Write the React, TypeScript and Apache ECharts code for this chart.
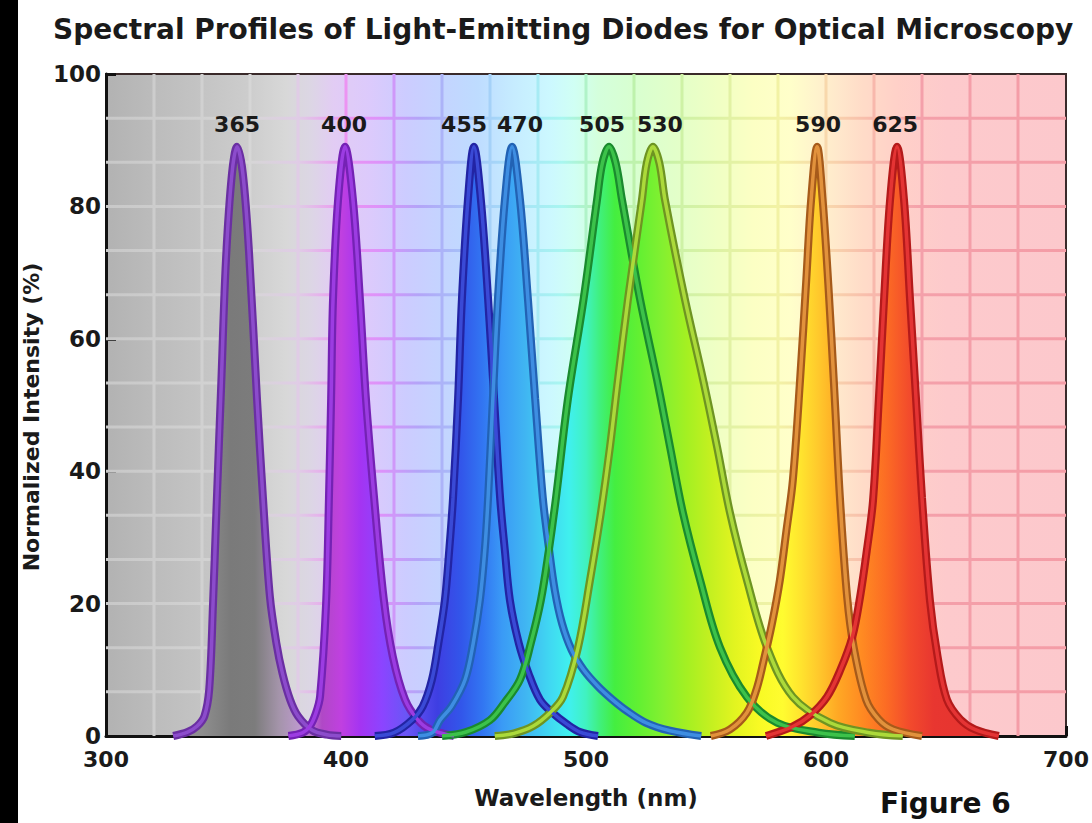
import React, { useEffect, useRef } from 'react';
import * as echarts from 'echarts';

const titleText = 'Spectral Profiles of Light-Emitting Diodes for Optical Microscopy';
const xAxisName = 'Wavelength (nm)';
const yAxisName = 'Normalized Intensity (%)';
const figureLabel = 'Figure 6';

// peak labels and where they sit (nm, %)
const ledNames = ['365', '400', '455', '470', '505', '530', '590', '625'];
const labelPositions = [354.6, 399.2, 449.2, 472.5, 506.7, 530.8, 596.7, 628.8];
const labelHeight = 92.3;

// background grid positions
const xGrid = [320, 340, 360, 380, 400, 420, 440, 460, 480, 500, 520, 540, 560, 580, 600, 620, 640, 660, 680];
const yGrid = [6.67, 13.33, 20, 26.67, 33.33, 40, 46.67, 53.33, 60, 66.67, 73.33, 80, 86.67, 93.33];

// spectra: [wavelength nm, normalized intensity %]
const led365 = [[328, 0], [334, 0.6], [338, 1.5], [341, 3], [343, 7], [344.6, 20], [346, 34], [348, 53], [350, 72], [352.5, 85], [354.6, 89], [357, 85], [359.6, 73], [362.9, 51], [365.4, 36], [368.3, 21], [371, 14], [373.5, 9.5], [376.7, 5.5], [380, 3], [385.8, 0.9], [392, 0.2], [398, 0]];
const led400 = [[376, 0], [382, 0.5], [385, 1.5], [387.5, 3.5], [389.2, 6], [391.7, 20], [392.9, 36], [393.8, 51], [394.6, 66], [396.7, 81], [399.6, 89], [402.9, 81], [405.8, 66], [408.3, 51], [411.7, 36], [415.8, 20.5], [419.5, 12], [424.6, 5.5], [430, 2.4], [435, 1], [445, 0]];
const led455 = [[412, 0], [420, 0.5], [427.5, 2.4], [432, 4.5], [435.8, 8.5], [438.5, 14], [441.2, 20.5], [443, 28], [444.6, 36], [446.7, 51], [448.3, 66], [450.8, 81], [453.3, 89], [456.2, 81], [459.2, 66], [461.7, 51], [464.2, 36], [466.2, 28], [468.3, 20.5], [472, 14], [476, 9.5], [480.8, 5.5], [486, 3.5], [492, 1.8], [497.5, 0.6], [505, 0]];
const led470 = [[430, 0], [436, 0.5], [439.2, 2.4], [444, 4.5], [449.6, 8.5], [453, 14], [455.8, 20.5], [457.8, 28], [459.2, 36], [461.2, 51], [463.3, 66], [466.2, 81], [469.2, 89], [472.5, 81], [475.8, 66], [478.8, 51], [482, 36], [484.5, 28.5], [487, 22], [490, 17], [494, 13], [499, 10], [505, 7.5], [511, 5.5], [517, 3.8], [525, 2], [535, 0.8], [548, 0]];
const led505 = [[440, 0], [450, 0.6], [460, 2.4], [466, 5], [472.5, 8.5], [477, 14], [481.2, 20.5], [484.5, 28], [487.5, 36], [492.5, 51], [499, 66], [504.6, 81], [506.8, 86.5], [509.6, 89], [512.4, 86.5], [515, 81], [522.5, 66], [529.6, 53.8], [535, 43.7], [540.4, 33.7], [547.5, 23.6], [555.8, 13.4], [567, 5.9], [579.6, 2], [597, 0.5], [612, 0]];
const led530 = [[462, 0], [470, 0.4], [478, 1.5], [485, 3.5], [490.4, 5.9], [496.7, 13.4], [501.7, 23.6], [506.2, 33.7], [510, 43.7], [513.3, 53.8], [517.5, 66], [523.3, 81], [525.3, 86.5], [527.9, 89], [530.6, 86.5], [532.9, 81], [541.2, 66], [548.8, 53.8], [554.6, 43.7], [560, 33.7], [567, 23.6], [575.4, 13.4], [586.2, 5.9], [601.7, 2], [618, 0.5], [632, 0]];
const led590 = [[552, 0], [560, 1], [567, 3.5], [571, 7], [573.8, 11], [577.5, 17], [580.8, 23.6], [583.5, 31], [586.2, 38.7], [589.2, 53.8], [591.8, 69], [593.8, 81], [596.3, 89], [598.6, 81], [601, 68], [603.5, 52], [605.8, 36], [608.8, 21], [611.5, 13.5], [616.7, 5.5], [622, 2.5], [628, 1], [640, 0]];
const led625 = [[575, 0], [586, 1.4], [593, 3], [600.4, 5.9], [606, 10], [611, 15], [614.2, 21], [617, 28], [619.6, 35.6], [622, 50.8], [624.2, 66], [626.7, 81], [629.6, 89], [632.5, 81], [635, 66], [637.5, 51], [640, 36], [643.3, 20.5], [646.5, 12], [650.4, 5.5], [656, 2.5], [662, 1], [672, 0]];

const ledData = [led365, led400, led455, led470, led505, led530, led590, led625];

// styles
const outerColors = ['#6a2fa2', '#7422b4', '#2224a4', '#2262b4', '#1a8a2e', '#6e9422', '#a65a1a', '#b41a1a'];
const innerColors = ['#8c4ccc', '#9c3ce2', '#3a4ad6', '#3e8ee2', '#3cc24a', '#acda3a', '#e2923c', '#e43434'];

const fillKeys: [number, string][] = [
  [300, '#9a9a9a'], [340, '#8e8e8e'], [352, '#7a7a7a'], [362, '#7c7c7c'], [372, '#a494aa'], [382, '#c09ad2'],
  [390, '#b048c6'], [398, '#c040e0'], [406, '#a434f2'], [415, '#8c44ff'], [425, '#6a56f6'], [438, '#3e3ee2'],
  [448, '#3256ea'], [457, '#3276f2'], [465, '#3a9af6'], [475, '#40b6f2'], [485, '#40d8f2'], [493, '#40f0ee'],
  [500, '#40f2c0'], [506, '#40f07a'], [512, '#44ee40'], [522, '#62f032'], [532, '#84f030'], [542, '#a4f022'],
  [552, '#c4f020'], [562, '#e2f420'], [572, '#f8fa24'], [582, '#fffc30'], [590, '#ffe22e'], [597, '#ffc82c'],
  [605, '#ffa824'], [615, '#ff8a22'], [625, '#fc6c24'], [635, '#f24a2c'], [645, '#e83630'], [700, '#e03030'],
];

const bgKeys: [number, string][] = [
  [300, '#b2b2b2'], [320, '#bcbcbc'], [340, '#c4c4c4'], [360, '#cdcdcd'], [375, '#d8d8d8'], [385, '#dcd6e4'],
  [395, '#e2ccf4'], [410, '#dccafc'], [425, '#ccccff'], [440, '#c4d4ff'], [455, '#bedcff'], [470, '#c6ecff'],
  [485, '#ccf8ff'], [495, '#d0fff4'], [505, '#d4ffdc'], [520, '#d8ffd0'], [540, '#e4ffc8'], [555, '#f0ffc4'],
  [570, '#fcffc4'], [585, '#ffffca'], [595, '#fff4cc'], [605, '#ffe8cc'], [615, '#ffdcc8'], [630, '#ffd0c8'],
  [650, '#fdcacc'], [700, '#fcc8cc'],
];

const gridKeys: [number, string][] = [
  [300, '#c8c8c8'], [360, '#d6d6d6'], [380, '#e0cce6'], [400, '#ec94f2'], [415, '#dc92fa'], [430, '#b4a4f8'],
  [450, '#a4c2f8'], [470, '#a6e0f8'], [490, '#a8f6f0'], [505, '#b4f2b4'], [530, '#c4f2a6'], [560, '#e2f2a4'],
  [580, '#f2f2a4'], [600, '#f8d8ac'], [620, '#f8b8ac'], [640, '#f4a0aa'], [700, '#f49ca6'],
];

const FONT = '"DejaVu Sans", "Liberation Sans", sans-serif';

function hexToRgb(h: string) {
  const n = parseInt(h.slice(1), 16);
  return [(n >> 16) & 255, (n >> 8) & 255, n & 255];
}
function colorAt(keys: [number, string][], nm: number) {
  if (nm <= keys[0][0]) return keys[0][1];
  for (let i = 1; i < keys.length; i++) {
    if (nm <= keys[i][0]) {
      const [a, ca] = keys[i - 1];
      const [b, cb] = keys[i];
      const t = (nm - a) / (b - a);
      const A = hexToRgb(ca), B = hexToRgb(cb);
      const c = A.map((v, k) => Math.round(v + (B[k] - v) * t));
      return `rgb(${c[0]},${c[1]},${c[2]})`;
    }
  }
  return keys[keys.length - 1][1];
}
function spectrumGradient(keys: [number, string][], lo: number, hi: number) {
  const stops = [{ offset: 0, color: colorAt(keys, lo) }];
  keys.forEach(([nm, c]) => {
    if (nm > lo && nm < hi) stops.push({ offset: (nm - lo) / (hi - lo), color: c });
  });
  stops.push({ offset: 1, color: colorAt(keys, hi) });
  return new echarts.graphic.LinearGradient(0, 0, 1, 0, stops);
}

const X_MIN = 300;
const X_MAX = 700;
const SMOOTH = 0.35;

export default function App() {
  const ref = useRef<HTMLDivElement>(null);
  useEffect(() => {
    if (!ref.current) return;
    const chart = echarts.init(ref.current, null, { renderer: 'svg' });
    const series: any[] = [];

    series.push({
      type: 'custom',
      name: 'vgrid',
      silent: true,
      z: 1,
      data: xGrid.map((x) => [x, 0]),
      renderItem: (_p: any, api: any) => {
        const x = api.value(0);
        const top = api.coord([x, 100]);
        const bot = api.coord([x, 0]);
        return {
          type: 'rect',
          shape: { x: top[0] - 1.5, y: top[1], width: 3, height: bot[1] - top[1] },
          style: { fill: colorAt(gridKeys, x) },
        };
      },
    });
    series.push({
      type: 'custom',
      name: 'hgrid',
      silent: true,
      z: 1,
      data: yGrid.map((v) => [X_MIN, v]),
      renderItem: (_p: any, api: any) => {
        const v = api.value(1);
        const l = api.coord([X_MIN, v]);
        const r = api.coord([X_MAX, v]);
        return {
          type: 'rect',
          shape: { x: l[0], y: l[1] - 1.5, width: r[0] - l[0], height: 3 },
          style: { fill: spectrumGradient(gridKeys, X_MIN, X_MAX) },
        };
      },
    });

    ledData.forEach((d, i) => {
      const lo = d[0][0];
      const hi = d[d.length - 1][0];
      series.push({
        type: 'line',
        name: ledNames[i] + ' fill',
        data: d,
        smooth: SMOOTH,
        symbol: 'none',
        silent: true,
        z: 2,
        lineStyle: { width: 0, opacity: 0 },
        areaStyle: { color: spectrumGradient(fillKeys, lo, hi), opacity: 1 },
      });
    });
    ledData.forEach((d, i) => {
      series.push({
        type: 'line',
        name: ledNames[i] + ' nm',
        data: d,
        smooth: SMOOTH,
        symbol: 'none',
        silent: true,
        z: 3,
        lineStyle: { color: outerColors[i], width: 8 },
      });
    });
    ledData.forEach((d, i) => {
      series.push({
        type: 'line',
        name: ledNames[i] + ' nm inner',
        data: d,
        smooth: SMOOTH,
        symbol: 'none',
        silent: true,
        z: 4,
        lineStyle: { color: innerColors[i], width: 3.5 },
      });
    });
    series.push({
      type: 'scatter',
      name: 'labels',
      z: 5,
      silent: true,
      symbolSize: 1,
      itemStyle: { color: 'transparent', opacity: 1 },
      data: labelPositions.map((x, i) => [x, labelHeight, ledNames[i]]),
      label: {
        show: true,
        position: 'inside',
        formatter: (p: any) => p.data[2],
        fontFamily: FONT,
        fontWeight: 'bold',
        fontSize: 22,
        color: '#1a1a1a',
        opacity: 1,
      },
    });

    chart.setOption({
      animation: false,
      backgroundColor: '#ffffff',
      title: {
        text: titleText,
        left: 48,
        top: 10,
        textStyle: { fontFamily: FONT, fontWeight: 'bold', fontSize: 28, color: '#1a1a1a' },
      },
      grid: {
        left: 106,
        right: 26,
        top: 74,
        bottom: 87,
        show: true,
        backgroundColor: spectrumGradient(bgKeys, X_MIN, X_MAX),
        borderColor: '#3a2a2a',
        borderWidth: 2,
      },
      xAxis: {
        type: 'value',
        min: X_MIN,
        max: X_MAX,
        interval: 100,
        name: xAxisName,
        nameLocation: 'middle',
        nameGap: 50,
        nameTextStyle: { fontFamily: FONT, fontWeight: 'bold', fontSize: 23, color: '#1a1a1a' },
        axisLine: { show: true, lineStyle: { color: '#111', width: 3 } },
        axisTick: { show: true, inside: true, length: 10, lineStyle: { color: '#111', width: 3 } },
        axisLabel: { fontFamily: FONT, fontWeight: 'bold', fontSize: 22, color: '#1a1a1a', margin: 12 },
        splitLine: { show: false },
      },
      yAxis: {
        type: 'value',
        min: 0,
        max: 100,
        interval: 20,
        name: yAxisName,
        nameLocation: 'middle',
        nameGap: 62,
        nameRotate: 90,
        nameTextStyle: {
          fontFamily: FONT,
          fontWeight: 'bold',
          fontSize: 22,
          color: '#1a1a1a',
          padding: [0, 24, 0, 0],
        },
        axisLine: { show: true, lineStyle: { color: '#111', width: 3 } },
        axisTick: { show: true, inside: true, length: 10, lineStyle: { color: '#111', width: 3 } },
        axisLabel: { fontFamily: FONT, fontWeight: 'bold', fontSize: 23, color: '#1a1a1a', margin: 5 },
        splitLine: { show: false },
      },
      graphic: [
        { type: 'rect', left: 0, top: 0, shape: { width: 18, height: 823 }, style: { fill: '#000' }, silent: true },
        {
          type: 'text',
          left: 880,
          top: 789,
          style: { text: figureLabel, font: `bold 28px ${FONT}`, fill: '#111' },
          silent: true,
        },
      ],
      series,
    });
    return () => chart.dispose();
  }, []);
  return <div ref={ref} style={{ position: 'absolute', left: 0, top: 0, width: 1092, height: 823 }} />;
}
